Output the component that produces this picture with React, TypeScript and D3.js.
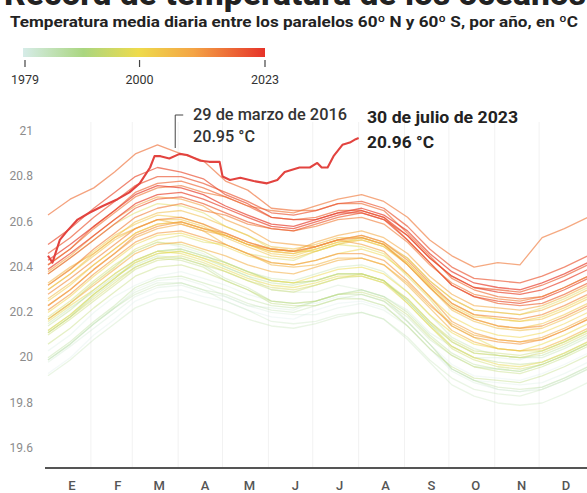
import React from "react";
import * as d3 from "d3";

const W = 587;
const H = 493;

// Years drawn as thin background lines
const years: number[] = d3.range(1979, 2023);

// Typical seasonal curve (ºC), read at roughly semi-monthly days
const climoDays: number[] = [0, 15, 31, 45, 59, 74, 90, 105, 120, 135, 151, 166, 181, 196, 212, 227, 243, 258, 273, 288, 304, 319, 334, 349, 365];
const climoVals: number[] = [20.24, 20.31, 20.39, 20.46, 20.52, 20.56, 20.56, 20.53, 20.49, 20.45, 20.41, 20.4, 20.42, 20.45, 20.46, 20.43, 20.35, 20.25, 20.16, 20.11, 20.09, 20.08, 20.1, 20.14, 20.19];

const monthStarts: number[] = [0, 31, 59, 90, 120, 151, 181, 212, 243, 273, 304, 334];
const monthLabels: string[] = ["E", "F", "M", "A", "M", "J", "J", "A", "S", "O", "N", "D"];

// Monthly departures of each year from the seasonal curve (1979..2022)
const yearAnomalies: number[][] = [
  [-0.32, -0.3, -0.28, -0.27, -0.25, -0.24, -0.22, -0.22, -0.2, -0.2, -0.19, -0.18],
  [-0.22, -0.2, -0.21, -0.19, -0.18, -0.17, -0.19, -0.21, -0.22, -0.22, -0.21, -0.22],
  [-0.26, -0.25, -0.23, -0.22, -0.23, -0.22, -0.24, -0.23, -0.22, -0.23, -0.24, -0.24],
  [-0.27, -0.27, -0.26, -0.25, -0.23, -0.2, -0.18, -0.17, -0.15, -0.12, -0.1, -0.08],
  [-0.08, -0.07, -0.06, -0.08, -0.1, -0.12, -0.14, -0.17, -0.2, -0.22, -0.24, -0.25],
  [-0.26, -0.25, -0.24, -0.24, -0.25, -0.26, -0.27, -0.27, -0.28, -0.29, -0.3, -0.31],
  [-0.33, -0.32, -0.31, -0.3, -0.29, -0.28, -0.28, -0.27, -0.27, -0.26, -0.26, -0.25],
  [-0.26, -0.25, -0.25, -0.24, -0.22, -0.21, -0.2, -0.19, -0.18, -0.16, -0.15, -0.14],
  [-0.14, -0.12, -0.1, -0.09, -0.08, -0.07, -0.06, -0.06, -0.07, -0.08, -0.09, -0.11],
  [-0.1, -0.11, -0.12, -0.13, -0.15, -0.17, -0.18, -0.19, -0.2, -0.22, -0.23, -0.24],
  [-0.25, -0.24, -0.22, -0.21, -0.2, -0.19, -0.18, -0.17, -0.16, -0.15, -0.15, -0.14],
  [-0.13, -0.12, -0.11, -0.1, -0.1, -0.09, -0.09, -0.1, -0.11, -0.1, -0.09, -0.1],
  [-0.11, -0.1, -0.1, -0.09, -0.08, -0.08, -0.09, -0.1, -0.11, -0.12, -0.12, -0.13],
  [-0.14, -0.13, -0.13, -0.14, -0.16, -0.18, -0.2, -0.21, -0.22, -0.21, -0.2, -0.19],
  [-0.19, -0.18, -0.17, -0.16, -0.16, -0.17, -0.18, -0.18, -0.17, -0.16, -0.16, -0.15],
  [-0.15, -0.15, -0.14, -0.13, -0.12, -0.12, -0.11, -0.11, -0.1, -0.09, -0.08, -0.08],
  [-0.07, -0.06, -0.06, -0.07, -0.08, -0.08, -0.09, -0.1, -0.12, -0.13, -0.14, -0.14],
  [-0.14, -0.14, -0.13, -0.12, -0.12, -0.11, -0.11, -0.1, -0.1, -0.1, -0.09, -0.09],
  [-0.08, -0.07, -0.05, -0.03, 0.0, 0.02, 0.04, 0.06, 0.08, 0.09, 0.1, 0.11],
  [0.12, 0.12, 0.11, 0.1, 0.08, 0.06, 0.04, 0.02, 0.0, -0.03, -0.06, -0.08],
  [-0.09, -0.1, -0.1, -0.11, -0.11, -0.1, -0.1, -0.11, -0.12, -0.12, -0.13, -0.13],
  [-0.13, -0.12, -0.11, -0.1, -0.09, -0.08, -0.07, -0.07, -0.07, -0.06, -0.06, -0.05],
  [-0.05, -0.04, -0.03, -0.02, -0.01, 0.0, 0.0, 0.01, 0.01, 0.01, 0.0, 0.0],
  [0.0, 0.01, 0.02, 0.03, 0.04, 0.05, 0.05, 0.05, 0.06, 0.06, 0.07, 0.07],
  [0.07, 0.07, 0.06, 0.05, 0.04, 0.04, 0.05, 0.06, 0.06, 0.07, 0.07, 0.06],
  [0.05, 0.05, 0.04, 0.04, 0.03, 0.03, 0.04, 0.05, 0.05, 0.05, 0.04, 0.04],
  [0.05, 0.06, 0.07, 0.08, 0.08, 0.07, 0.07, 0.06, 0.05, 0.04, 0.03, 0.02],
  [0.01, 0.01, 0.02, 0.03, 0.04, 0.05, 0.06, 0.07, 0.08, 0.09, 0.1, 0.1],
  [0.08, 0.06, 0.04, 0.02, 0.0, -0.01, -0.02, -0.03, -0.04, -0.05, -0.06, -0.07],
  [-0.08, -0.08, -0.07, -0.06, -0.05, -0.04, -0.03, -0.03, -0.03, -0.02, -0.02, -0.02],
  [-0.02, -0.01, 0.0, 0.02, 0.04, 0.06, 0.08, 0.09, 0.1, 0.11, 0.12, 0.12],
  [0.13, 0.14, 0.14, 0.13, 0.11, 0.09, 0.06, 0.03, 0.01, -0.01, -0.02, -0.03],
  [-0.04, -0.03, -0.02, -0.01, 0.0, 0.0, 0.0, -0.01, -0.02, -0.03, -0.03, -0.03],
  [-0.02, -0.01, 0.01, 0.03, 0.05, 0.06, 0.06, 0.06, 0.05, 0.05, 0.04, 0.03],
  [0.03, 0.03, 0.04, 0.05, 0.05, 0.06, 0.06, 0.07, 0.07, 0.07, 0.08, 0.08],
  [0.07, 0.08, 0.09, 0.11, 0.13, 0.15, 0.15, 0.15, 0.15, 0.16, 0.16, 0.16],
  [0.16, 0.17, 0.18, 0.19, 0.21, 0.23, 0.24, 0.25, 0.26, 0.28, 0.32, 0.42],
  [0.38, 0.35, 0.37, 0.33, 0.28, 0.24, 0.22, 0.21, 0.19, 0.18, 0.17, 0.16],
  [0.16, 0.18, 0.2, 0.21, 0.21, 0.2, 0.19, 0.18, 0.16, 0.15, 0.14, 0.13],
  [0.12, 0.12, 0.13, 0.14, 0.14, 0.15, 0.16, 0.17, 0.18, 0.19, 0.2, 0.21],
  [0.21, 0.22, 0.23, 0.23, 0.23, 0.22, 0.22, 0.22, 0.22, 0.23, 0.24, 0.25],
  [0.25, 0.26, 0.27, 0.25, 0.22, 0.2, 0.18, 0.17, 0.16, 0.15, 0.15, 0.15],
  [0.14, 0.14, 0.15, 0.16, 0.16, 0.16, 0.17, 0.18, 0.18, 0.19, 0.19, 0.19],
  [0.18, 0.18, 0.19, 0.18, 0.17, 0.17, 0.18, 0.19, 0.2, 0.21, 0.21, 0.22],
];

// 2023 daily series (day of year, ºC), up to 30 July
const days2023: number[] = [0, 3, 8, 13, 20, 28, 37, 47, 55, 62, 69, 72, 76, 82, 89, 94, 103, 109, 116, 118, 123, 130, 139, 148, 155, 160, 170, 177, 182, 185, 189, 193, 199, 204, 208, 210];
const vals2023: number[] = [20.44, 20.41, 20.51, 20.55, 20.6, 20.63, 20.66, 20.69, 20.72, 20.76, 20.83, 20.88, 20.88, 20.87, 20.89, 20.885, 20.86, 20.855, 20.855, 20.79, 20.775, 20.785, 20.77, 20.76, 20.775, 20.81, 20.83, 20.83, 20.85, 20.83, 20.83, 20.88, 20.93, 20.94, 20.955, 20.96];

const yTicks: number[] = [19.6, 19.8, 20, 20.2, 20.4, 20.6, 20.8, 21];
const legendTicks: number[] = [1979, 2000, 2023];
const colorYears: number[] = [1979, 1990, 2000, 2010, 2023];
const colorStops: string[] = ["#d6ece8", "#aad680", "#eedb4c", "#f4a445", "#e63329"];
const opacityStops: number[] = [0.3, 0.35, 0.5, 0.6, 0.7];

export default function App() {
  const x = d3.scaleLinear().domain([0, 365]).range([48, 588]);
  const y = d3.scaleLinear().domain([19.6, 21]).range([446, 129]);
  const color = d3.scaleLinear<string>().domain(colorYears).range(colorStops);
  const opacity = d3.scaleLinear().domain(colorYears).range(opacityStops);
  const legendX = d3.scaleLinear().domain([1979, 2023]).range([25, 265]);

  const monthOf = (day: number) => {
    let m = 0;
    monthStarts.forEach((s, i) => {
      if (day >= s) m = i;
    });
    return m;
  };

  const line = d3
    .line<[number, number]>()
    .x((d) => x(d[0]))
    .y((d) => y(d[1]));

  const yearPaths = years.map((yr, i) => {
    const anom = yearAnomalies[i];
    const pts: [number, number][] = climoDays.map((d, k) => [d, climoVals[k] + anom[monthOf(Math.min(d, 364))]]);
    return { yr, d: line(pts) as string };
  });

  const path2023 = line(days2023.map((d, i) => [d, vals2023[i]] as [number, number])) as string;

  const axisY = 468;
  const peakX = x(86);

  return (
    <div style={{ position: "absolute", left: 0, top: 0, width: W, height: H, overflow: "hidden", background: "#fff" }}>
      <svg width={W} height={H} style={{ display: "block", fontFamily: "Roboto, 'Noto Sans', sans-serif" }}>
        <defs>
          <linearGradient id="lg" x1="0" x2="1" y1="0" y2="0">
            {colorYears.map((yr, i) => (
              <stop key={yr} offset={(yr - 1979) / (2023 - 1979)} stopColor={colorStops[i]} />
            ))}
          </linearGradient>
          <clipPath id="plot">
            <rect x={40} y={90} width={W - 40} height={axisY - 90} />
          </clipPath>
        </defs>

        <text x={4} y={5} fontSize={33} fontWeight={800} fill="#222" textLength={582} lengthAdjust="spacingAndGlyphs">
          Récord de temperatura de los océanos
        </text>
        <text x={10} y={27} fontSize={15} fontWeight={700} fill="#222" textLength={568} lengthAdjust="spacingAndGlyphs">
          Temperatura media diaria entre los paralelos 60º N y 60º S, por año, en ºC
        </text>

        {/* legend */}
        <rect x={legendX(1979) - 2} y={48} width={legendX(2023) - legendX(1979) + 2} height={9} fill="url(#lg)" />
        {legendTicks.map((t) => (
          <g key={t}>
            <line x1={legendX(t)} x2={legendX(t)} y1={60} y2={67} stroke="#444" strokeWidth={1.2} />
            <text x={legendX(t)} y={84} textAnchor="middle" fontSize={12.5} fill="#333">
              {t}
            </text>
          </g>
        ))}

        {/* month gridlines */}
        {monthStarts.slice(1).map((s) => (
          <line key={s} x1={x(s) - 3} x2={x(s) - 3} y1={122} y2={axisY} stroke="#f2f2f2" strokeWidth={1} />
        ))}

        {/* y labels */}
        {yTicks.map((t) => (
          <text key={t} x={33} y={y(t) + 6} textAnchor="end" fontSize={12} fill="#8c8c8c">
            {d3.format("~g")(t)}
          </text>
        ))}

        <g clipPath="url(#plot)">
          {yearPaths.map((p) => (
            <path key={p.yr} d={p.d} fill="none" stroke={color(p.yr)} strokeWidth={1.3} strokeOpacity={opacity(p.yr)} strokeLinejoin="round" />
          ))}
          <path d={path2023} fill="none" stroke="#e2433f" strokeWidth={2.1} strokeLinejoin="round" />
        </g>

        {/* axis */}
        <line x1={45} x2={W} y1={axisY} y2={axisY} stroke="#555" strokeWidth={2} />
        {monthLabels.map((m, i) => (
          <text key={i} x={x(monthStarts[i] + 15.5) + 1} y={490} textAnchor="middle" fontSize={13} fontWeight={500} fill="#555">
            {m}
          </text>
        ))}

        {/* annotations */}
        <path d={`M${peakX + 8},115 H${peakX} V148`} fill="none" stroke="#444" strokeWidth={1} />
        <text x={193} y={120} fontSize={16} fontWeight={500} fill="#333" textLength={154} lengthAdjust="spacingAndGlyphs">
          29 de marzo de 2016
        </text>
        <text x={193} y={142} fontSize={16} fontWeight={500} fill="#333" textLength={62} lengthAdjust="spacingAndGlyphs">
          20.95 °C
        </text>
        <text x={367} y={123} fontSize={16} fontWeight={700} fill="#222" textLength={151} lengthAdjust="spacingAndGlyphs">
          30 de julio de 2023
        </text>
        <text x={367} y={148} fontSize={16} fontWeight={700} fill="#222" textLength={67} lengthAdjust="spacingAndGlyphs">
          20.96 °C
        </text>
      </svg>
    </div>
  );
}
